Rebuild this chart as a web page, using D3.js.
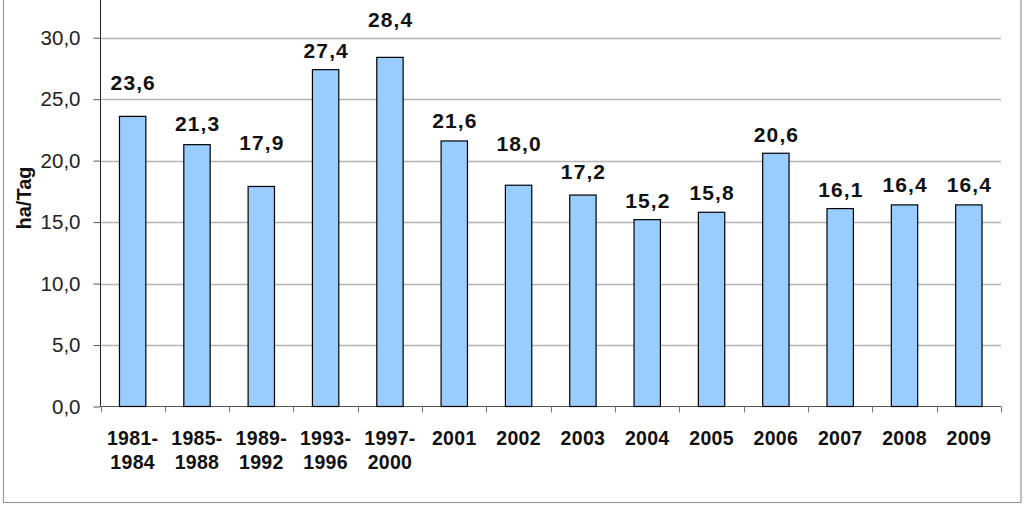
<!DOCTYPE html>
<html><head><meta charset="utf-8">
<script src="https://cdn.jsdelivr.net/npm/d3@7"></script>
<style>body{margin:0;background:#fff}svg{display:block}</style>
</head><body>
<svg id="c" width="1024" height="505"></svg>
<script>
const categories = [["1981-","1984"],["1985-","1988"],["1989-","1992"],["1993-","1996"],["1997-","2000"],["2001"],["2002"],["2003"],["2004"],["2005"],["2006"],["2007"],["2008"],["2009"]];
const values = [23.6,21.3,17.9,27.4,28.4,21.6,18.0,17.2,15.2,15.8,20.6,16.1,16.4,16.4];
const yTicks = [0,5,10,15,20,25,30];
const yTitle = "ha/Tag";

// layout: label lift above each bar top (px), as placed in the original
const labelLift = [26.7,13.3,36,11.7,30.6,12.7,34.7,15.7,12,12.3,11.7,11.7,13.3,13.3];

const FONT = "Arial, 'Liberation Sans', sans-serif";
const svg = d3.select("#c");
const L = 100.5, R = 1001, B = 406.5;
const y = d3.scaleLinear().domain([0,30]).range([B, 37.7]);
const x = d3.scaleBand().domain(d3.range(values.length)).range([L, R]).paddingInner(0.59).paddingOuter(0.295);
const xc = d3.scaleBand().domain(d3.range(values.length)).range([L, R]);
const fmt = v => d3.format(".1f")(v).replace(".", ",");

// outer border
svg.append("rect").attr("x",3.5).attr("y",-5).attr("width",1017.5).attr("height",507.5)
  .attr("fill","none").attr("stroke","#9a9a9a").attr("stroke-width",1.2);

// gridlines
svg.append("g").selectAll("line").data(yTicks.filter(d=>d>0)).join("line")
  .attr("x1",L).attr("x2",R).attr("y1",d=>Math.round(y(d))+0.5).attr("y2",d=>Math.round(y(d))+0.5)
  .attr("stroke","#b4b4b4").attr("stroke-width",1.3);

// y axis
const ya = svg.append("g").attr("transform",`translate(${L},0)`)
  .call(d3.axisLeft(y).tickValues(yTicks).tickFormat(fmt).tickSize(7).tickPadding(13));
ya.select(".domain").attr("d",`M0,0V${B}`).attr("stroke","#222");
ya.selectAll(".tick line").attr("stroke","#555");
ya.selectAll("text").attr("font-family",FONT).attr("font-size",20.5).attr("fill","#222");

// x axis
const xa = svg.append("g").attr("transform",`translate(0,${B})`)
  .call(d3.axisBottom(xc).tickValues([]).tickSize(0));
xa.select(".domain").attr("d",`M${L},0H${R}`).attr("stroke","#555");
svg.append("g").selectAll("line").data(d3.range(values.length+1)).join("line")
  .attr("x1",i=>Math.round(L + i*xc.step())+0.5).attr("x2",i=>Math.round(L + i*xc.step())+0.5)
  .attr("y1",B).attr("y2",B+6).attr("stroke","#777");

// x labels
const xl = svg.append("g").selectAll("text").data(categories).join("text")
  .attr("x",(d,i)=>xc(i)+xc.bandwidth()/2).attr("y",445)
  .attr("text-anchor","middle").attr("font-family",FONT)
  .attr("font-weight","bold").attr("font-size",19.5).attr("letter-spacing",0.3).attr("fill","#111");
xl.each(function(d){
  const t = d3.select(this);
  d.forEach((s,k)=>t.append("tspan").attr("x",t.attr("x")).attr("dy",k?24:0).text(s));
});

// bars
svg.append("g").selectAll("rect").data(values).join("rect")
  .attr("x",(d,i)=>x(i)).attr("width",x.bandwidth())
  .attr("y",d=>y(d)).attr("height",d=>B-y(d))
  .attr("fill","#99ccff").attr("stroke","#000").attr("stroke-width",1.2);

// value labels
svg.append("g").selectAll("text").data(values).join("text")
  .attr("x",(d,i)=>xc(i)+xc.bandwidth()/2+0.6).attr("y",(d,i)=>y(d)-labelLift[i])
  .attr("text-anchor","middle").attr("font-family",FONT)
  .attr("font-weight","bold").attr("font-size",21).attr("letter-spacing",1.1).attr("fill","#111").text(fmt);

// y title
svg.append("text").attr("transform","translate(31,198) rotate(-90)")
  .attr("text-anchor","middle").attr("font-family",FONT)
  .attr("font-weight","bold").attr("font-size",20).attr("fill","#111").text(yTitle);
</script>
</body></html>
